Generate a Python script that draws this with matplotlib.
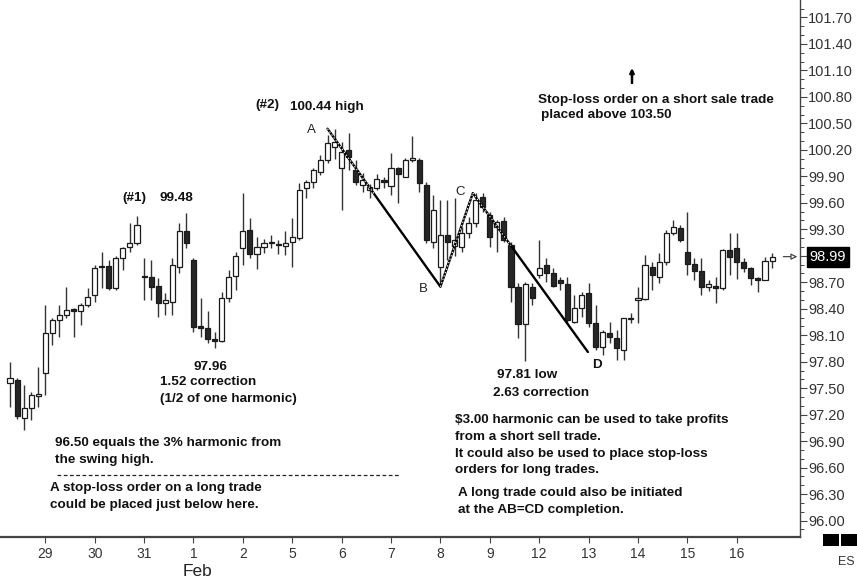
import matplotlib
matplotlib.use("Agg")
import matplotlib.pyplot as plt
from matplotlib.ticker import MultipleLocator, FixedLocator, FixedFormatter
from matplotlib.patches import Rectangle
import numpy as np

# ---------------- data ----------------
opens = [97.56, 97.59, 97.16, 97.28, 97.41, 97.67, 98.13, 98.27, 98.33, 98.40,
         98.37, 98.44, 98.55, 98.87, 98.88, 98.64, 98.98, 99.10, 99.15, 98.77,
         98.76, 98.66, 98.47, 98.48, 98.87, 99.28, 98.95, 98.20, 98.18, 98.06,
         98.03, 98.52, 98.77, 99.09, 99.29, 99.02, 99.10, 99.14, 99.13, 99.11,
         99.16, 99.20, 99.77, 99.84, 99.95, 100.09, 100.23, 99.99, 100.20, 99.97,
         99.80, 99.75, 99.77, 99.86, 99.79, 99.99, 99.89, 100.09, 100.09, 99.80,
         99.16, 98.87, 99.23, 99.11, 99.10, 99.26, 99.37, 99.67, 99.46, 99.33,
         99.39, 99.12, 98.65, 98.23, 98.65, 98.78, 98.89, 98.81, 98.73, 98.68,
         98.25, 98.41, 98.58, 98.24, 97.97, 98.13, 98.07, 97.93, 98.28, 98.50,
         98.51, 98.87, 98.76, 98.93, 99.26, 99.32, 99.04, 98.91, 98.83, 98.65,
         98.66, 98.64, 99.06, 99.09, 98.93, 98.86, 98.75, 98.73, 98.94]
highs = [97.80, 97.62, 97.54, 97.46, 97.74, 98.44, 98.30, 98.44, 98.65, 98.41,
         98.47, 98.64, 98.90, 99.04, 98.95, 99.00, 99.10, 99.37, 99.45, 98.98,
         98.95, 98.75, 98.58, 98.98, 99.37, 99.48, 98.98, 98.52, 98.37, 98.14,
         98.59, 98.84, 99.04, 99.71, 99.43, 99.21, 99.19, 99.24, 99.18, 99.28,
         99.43, 99.83, 99.86, 99.99, 100.14, 100.37, 100.44, 100.29, 100.39, 100.09,
         99.94, 99.81, 99.93, 99.89, 100.17, 100.01, 100.11, 100.36, 100.11, 99.84,
         99.69, 99.63, 99.63, 99.66, 99.33, 99.44, 99.71, 99.71, 99.50, 99.41,
         99.44, 99.16, 98.69, 98.70, 98.69, 99.18, 98.98, 98.86, 98.76, 98.76,
         98.56, 98.59, 98.69, 98.44, 98.16, 98.25, 98.16, 98.29, 98.35, 98.65,
         99.01, 98.93, 99.03, 99.29, 99.41, 99.35, 99.50, 98.98, 98.98, 98.72,
         98.76, 99.08, 99.26, 99.26, 98.98, 98.87, 98.76, 98.99, 99.03]
lows = [97.29, 97.15, 97.03, 97.14, 97.29, 97.42, 97.99, 98.08, 98.30, 98.08,
        98.22, 98.42, 98.48, 98.64, 98.61, 98.61, 98.84, 99.04, 99.12, 98.50,
        98.50, 98.31, 98.33, 98.33, 98.81, 99.09, 98.14, 98.08, 98.01, 97.96,
        98.02, 98.48, 98.61, 98.90, 98.98, 98.85, 99.03, 99.09, 99.02, 99.01,
        98.87, 99.18, 99.66, 99.77, 99.92, 100.05, 100.10, 99.52, 99.97, 99.80,
        99.72, 99.66, 99.75, 99.77, 99.69, 99.60, 99.89, 100.06, 99.72, 99.15,
        99.09, 98.65, 98.95, 99.00, 99.04, 99.20, 99.33, 99.50, 99.10, 99.04,
        99.16, 98.48, 98.07, 97.81, 98.44, 98.75, 98.70, 98.65, 98.61, 98.24,
        98.24, 98.31, 98.19, 97.93, 97.88, 98.01, 97.82, 97.82, 98.24, 98.24,
        98.50, 98.61, 98.69, 98.90, 99.24, 99.16, 98.78, 98.73, 98.55, 98.60,
        98.46, 98.61, 98.78, 98.74, 98.82, 98.67, 98.59, 98.72, 98.86]
closes = [97.62, 97.18, 97.28, 97.42, 97.43, 98.13, 98.27, 98.33, 98.39, 98.38,
          98.44, 98.53, 98.86, 98.88, 98.64, 98.98, 99.09, 99.15, 99.35, 98.76,
          98.65, 98.47, 98.50, 98.90, 99.28, 99.14, 98.19, 98.18, 98.06, 98.04,
          98.52, 98.76, 99.00, 99.28, 99.02, 99.10, 99.14, 99.15, 99.12, 99.15,
          99.21, 99.75, 99.84, 99.97, 100.09, 100.28, 100.29, 100.18, 100.12, 99.84,
          99.86, 99.78, 99.87, 99.84, 99.99, 99.93, 100.08, 100.10, 99.83, 99.18,
          99.52, 99.24, 99.16, 99.18, 99.26, 99.37, 99.63, 99.55, 99.21, 99.38,
          99.18, 98.65, 98.23, 98.68, 98.52, 98.86, 98.81, 98.66, 98.69, 98.27,
          98.41, 98.56, 98.24, 97.97, 98.14, 98.08, 97.95, 98.29, 98.29, 98.52,
          98.90, 98.78, 98.93, 99.26, 99.33, 99.18, 98.91, 98.83, 98.65, 98.68,
          98.64, 99.07, 98.99, 98.93, 98.86, 98.75, 98.73, 98.94, 98.99]

day_labels = ["29", "30", "31", "1", "2", "5", "6", "7", "8", "9",
              "12", "13", "14", "15", "16"]
bars_per_day = 7
first_day_bar = 5

price_ticks = [96.00, 96.30, 96.60, 96.90, 97.20, 97.50, 97.80, 98.10, 98.40, 98.70,
               99.00, 99.30, 99.60, 99.90, 100.20, 100.50, 100.80, 101.10, 101.40, 101.70]
# the 99.00 label is hidden behind the last-price box in the chart
price_tick_labels = ["96.00", "96.30", "96.60", "96.90", "97.20", "97.50", "97.80",
                     "98.10", "98.40", "98.70", "", "99.30", "99.60", "99.90",
                     "100.20", "100.50", "100.80", "101.10", "101.40", "101.70"]
last_price = 98.99

# AB=CD pattern points (bar index, price)
pattern_x = [45.0, 61.0, 65.6, 81.9]
pattern_y = [100.44, 98.65, 99.71, 97.91]

harmonic_level = 96.52

# ---------------- figure ----------------
W, H = 857, 581
fig = plt.figure(figsize=(W / 100, H / 100), dpi=100)
ax_right_px, ax_bottom_px = 800, 537
ax = fig.add_axes([0, 1 - ax_bottom_px / H, ax_right_px / W, ax_bottom_px / H])

px_per_bar = 7.056
x_left = -10 / px_per_bar
x_right = (ax_right_px - 10) / px_per_bar
ax.set_xlim(x_left, x_right)
ax.set_ylim(101.898 - 0.01133 * ax_bottom_px, 101.898)

ink = "#1a1a1a"
n = len(opens)
xs = np.arange(n)
o = np.array(opens); c = np.array(closes); h = np.array(highs); l = np.array(lows)
up = c >= o

ax.vlines(xs, l, h, color="#333333", linewidth=1.0, zorder=2)
bottoms = np.minimum(o, c)
heights = np.maximum(np.abs(c - o), 0.014)
ax.bar(xs[up], heights[up], bottom=bottoms[up], width=0.72,
       facecolor="white", edgecolor=ink, linewidth=0.9, zorder=3)
ax.bar(xs[~up], heights[~up], bottom=bottoms[~up], width=0.72,
       facecolor="#262626", edgecolor=ink, linewidth=0.9, zorder=3)

# AB=CD lines
ax.plot(pattern_x, pattern_y, color="black", linewidth=1.7, zorder=4,
        solid_capstyle="round")
def frac_pt(i, j, f):
    return (pattern_x[i] + f * (pattern_x[j] - pattern_x[i]),
            pattern_y[i] + f * (pattern_y[j] - pattern_y[i]))
segs = [(0, 1, 0.0, 0.42), (1, 2, 0.0, 1.0), (2, 3, 0.0, 0.33)]
for i, j, f0, f1 in segs:
    p0 = frac_pt(i, j, f0); p1 = frac_pt(i, j, f1)
    ax.plot([p0[0], p1[0]], [p0[1], p1[1]], color="white", linewidth=0.8,
            linestyle=(0, (1.2, 2.0)), zorder=5)

# dashed harmonic line
ax.plot([6.7, 55.3], [harmonic_level, harmonic_level], color="#222222",
        linewidth=0.9, linestyle=(0, (3, 2)), zorder=2)

# ---------------- axes styling ----------------
for s in ["left", "top"]:
    ax.spines[s].set_visible(False)
ax.spines["right"].set_color("#444444")
ax.spines["bottom"].set_color("#444444")
ax.spines["bottom"].set_linewidth(1.6)
ax.spines["right"].set_linewidth(1.0)

ax.yaxis.tick_right()
ax.yaxis.set_major_locator(FixedLocator(price_ticks))
ax.yaxis.set_major_formatter(FixedFormatter(price_tick_labels))
ax.yaxis.set_minor_locator(MultipleLocator(0.10))
ax.tick_params(axis="y", which="major", direction="out", length=5, width=0.8,
               colors="#444444", labelcolor="#333333", labelsize=10.5, pad=1)
ax.tick_params(axis="y", which="minor", direction="out", length=3, width=0.7,
               colors="#444444")
for t in ax.get_yticklabels():
    t.set_fontfamily("Liberation Sans")

tick_pos = [first_day_bar + bars_per_day * k for k in range(len(day_labels))]
ax.set_xticks(tick_pos)
ax.set_xticklabels(day_labels)
ax.tick_params(axis="x", direction="out", length=4, width=0.8, colors="#444444",
               labelcolor="#333333", labelsize=10, pad=3)
for t in ax.get_xticklabels():
    t.set_fontfamily("Liberation Sans")

# last price box
ax.annotate(f"{last_price:.2f}", xy=(1.0, last_price), xycoords=("axes fraction", "data"),
            xytext=(7, 0), textcoords="offset points", ha="left", va="center",
            color="white", fontsize=10.5, family="Liberation Sans",
            bbox=dict(boxstyle="square,pad=0.2", facecolor="black", edgecolor="black"),
            zorder=10, annotation_clip=False)
ax.annotate("", xy=(1.0, last_price), xycoords=("axes fraction", "data"),
            xytext=(-14, 0), textcoords="offset points",
            arrowprops=dict(arrowstyle="-|>", color="#333333", lw=0.8,
                            fc="white", mutation_scale=9), annotation_clip=False)

# ---------------- text annotations (pixel positions -> axes fraction) ----------------
def P(px, py):
    return px / ax_right_px, 1 - py / ax_bottom_px

bold = dict(fontsize=9.7, fontweight="bold", family="Liberation Sans", color="#111111",
            ha="left", va="center", transform=ax.transAxes, zorder=6)
notes = [
    ("(#1)", 122, 198), ("99.48", 160, 198),
    ("(#2)", 255, 105), ("100.44 high", 290, 107),
    ("97.96", 194, 367), ("1.52 correction", 160, 382), ("(1/2 of one harmonic)", 160, 399),
    ("Stop-loss order on a short sale trade", 538, 100), ("placed above 103.50", 541, 115),
    ("97.81 low", 497, 375), ("2.63 correction", 493, 393),
    ("96.50 equals the 3% harmonic from", 55, 443), ("the swing high.", 55, 460),
    ("A stop-loss order on a long trade", 50, 488), ("could be placed just below here.", 50, 505),
    ("\\$3.00 harmonic can be used to take profits", 455, 420),
    ("from a short sell trade.", 455, 437),
    ("It could also be used to place stop-loss", 455, 454),
    ("orders for long trades.", 455, 470),
    ("A long trade could also be initiated", 458, 493),
    ("at the AB=CD completion.", 458, 510),
    ("D", 592, 365),
]
for txt, px, py in notes:
    ax.text(*P(px, py), txt, **bold)

for name, px, py in [("A", 307, 130), ("B", 419, 289), ("C", 455, 192)]:
    ax.text(*P(px, py), name, fontsize=9.5, family="Liberation Sans", color="#222222",
            ha="left", va="center", transform=ax.transAxes, zorder=6)

# small up arrow
ax.annotate("", xy=P(632, 68), xycoords="axes fraction", xytext=P(632, 83),
            arrowprops=dict(arrowstyle="-|>", color="black", lw=1.8, mutation_scale=6,
                            shrinkA=0, shrinkB=0))

# month label and bottom-right decorations
fig.text(197 / W, 1 - 572 / H, "Feb", fontsize=12.5, family="Liberation Sans",
         color="#222222", ha="center", va="center")
fig.patches.append(Rectangle((823 / W, 1 - 546 / H), 16 / W, 12 / H, transform=fig.transFigure,
                             facecolor="black", edgecolor="none"))
fig.patches.append(Rectangle((841 / W, 1 - 546 / H), 16 / W, 12 / H, transform=fig.transFigure,
                             facecolor="black", edgecolor="none"))
fig.text(838 / W, 1 - 562 / H, "ES", fontsize=9, family="Liberation Sans",
         color="#333333", ha="left", va="center")

fig.savefig("out.png", dpi=100)
